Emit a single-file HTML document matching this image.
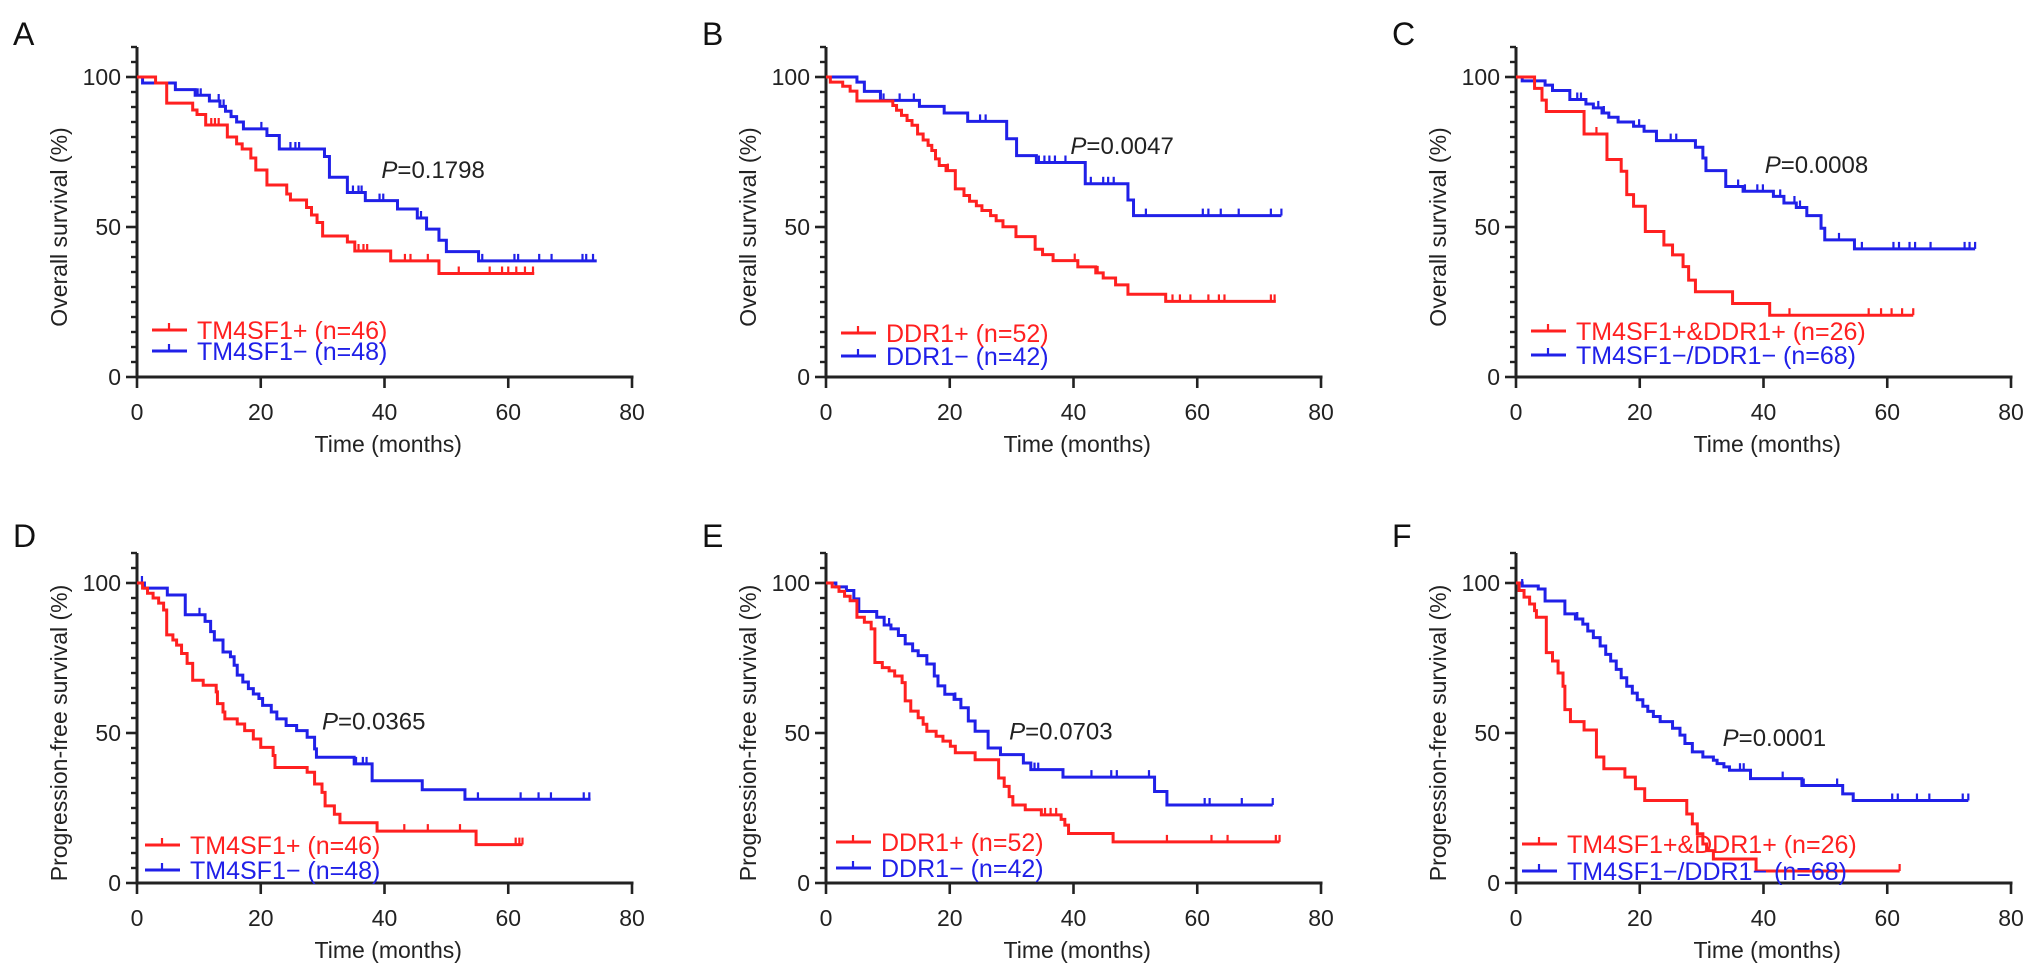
<!DOCTYPE html>
<html><head><meta charset="utf-8">
<style>
html,body{margin:0;padding:0;background:#fff;}
svg{display:block;font-family:"Liberation Sans",Arial,sans-serif;}
</style></head>
<body>
<svg id="fig" width="2032" height="977" viewBox="0 0 2032 977" xmlns="http://www.w3.org/2000/svg"></svg>
<script>
// ---------- data ----------
const panelLetters = ["A","B","C","D","E","F"];
const yTitles = ["Overall survival (%)","Overall survival (%)","Overall survival (%)","Progression-free survival (%)","Progression-free survival (%)","Progression-free survival (%)"];
const pLabels = ["=0.1798","=0.0047","=0.0008","=0.0365","=0.0703","=0.0001"];
const pPosT = [39.5,39.5,40.2,29.9,29.6,33.4];
const pPosV = [69,77,70.6,53.8,50.5,48.4];
const redNames = ["TM4SF1+ (n=46)","DDR1+ (n=52)","TM4SF1+&DDR1+ (n=26)","TM4SF1+ (n=46)","DDR1+ (n=52)","TM4SF1+&DDR1+ (n=26)"];
const blueNames = ["TM4SF1\u2212 (n=48)","DDR1\u2212 (n=42)","TM4SF1\u2212/DDR1\u2212 (n=68)","TM4SF1\u2212 (n=48)","DDR1\u2212 (n=42)","TM4SF1\u2212/DDR1\u2212 (n=68)"];
const xTicks = [0,20,40,60,80];
const yTicks = [0,50,100];
const endRed = [64.2,72.7,64.2,62.3,73.3,62];
const endBlue = [74.3,73.6,74.2,73.3,72.2,73.1];

const aRedT=[3,4.8,9,9.7,11.1,14.6,16.1,17,18.4,19.2,21,24.2,24.8,27.4,28.2,29.1,30,34,35.2,41,48.8];
const aRedS=[98,91.3,89,87.5,84,80,77.7,76,73,69,64,61,59,56.5,54,51.5,47,45,42,38.7,34.5];
const aRedC=[12,12.6,13.2,35.8,36.6,37.2,43.3,44.2,47,52,57,59,60,61.3,62.7,64];
const aBlueT=[0.9,6.2,9.4,11.7,13.4,14.3,15.2,16.1,17.2,21,23,30.3,31.1,34,36.9,42.1,45.3,46.8,48.8,50,55.2];
const aBlueS=[98,95.8,93.9,92,90.2,88.6,86.8,85,82.7,80.5,76,73.5,66.6,61.5,58.8,56,53,49.3,45.6,41.8,38.7];
const aBlueC=[9.8,10.3,13.2,14,20.1,24.8,25.6,26.2,34.9,35.8,36.3,39.2,39.8,45.9,55.8,61,61.6,65,67,72,72.6,73.7];

const bRedT=[0.7,2.7,3.9,5,10.8,11.4,12.2,13.1,13.9,14.8,15.7,16.5,17.1,17.7,18.3,19.4,20.9,22.3,23.2,24.3,25.2,26.6,27.5,28.6,30.7,33.8,35,36.7,40.7,43.6,44.8,46.8,48.8,54.9];
const bRedS=[98.3,96.9,95.3,92,90.5,88.9,87.2,85.5,83.9,81,79,77.2,75.5,72.7,70.5,68.8,62.7,60.5,58.6,57.1,55.5,53.8,52.1,50.1,46.8,42.6,40.8,38.8,36.7,34.7,33,30.7,27.6,25.2];
const bRedC=[19.7,40.2,43.9,56,57.2,58.9,61.8,63.5,64.4,71.9,72.5];
const bBlueT=[5,6.2,8.8,15.1,19.1,22.9,29.2,30.8,34,41.9,48.8,49.7];
const bBlueS=[98.3,95.2,92.2,90.2,88,85.2,79.4,73.8,71.5,64.4,59,53.8];
const bBlueC=[9.3,11.9,14.2,24.9,25.8,34.4,35.3,36.1,37,38.7,42.8,44.8,45.6,46.5,51.7,60.9,61.8,63.8,66.7,71.9,73.6];

const cRedT=[3,4.2,4.9,11,14.7,17,17.9,19,20.9,23.9,25.3,27,27.9,29,35,41];
const cRedS=[96.2,92.3,88.5,81,72.5,68.6,60.8,56.9,48.5,44,40.7,36.8,32.3,28.4,24.5,20.6];
const cRedC=[13,44.2,57,59,60.7,62.4,64.2];
const cBlueT=[1,4.7,5.9,8.7,11.3,12.5,13.9,15,16.5,19,20.7,22.7,29,30.2,30.7,33.9,36.7,41.6,43.3,45.3,47,49.3,49.9,54.7];
const cBlueS=[98.7,97.3,95.5,92.5,91,89.7,88,86.6,85,83.6,81.9,78.8,76.6,73,68.8,63.5,61.9,60.2,58,56.5,53.8,49.6,45.7,42.7];
const cBlueC=[9.9,10.5,13.3,14.2,19.9,25,25.9,35.9,37,39,39.9,42.7,45,45.9,52.2,55.9,61,61.9,63.6,64.5,67,72.5,73.3,74.2];

const dRedT=[0.9,1.7,2.6,3.5,4.3,4.8,5.8,6.4,7.2,8.1,9,10.7,12.8,13,13.9,14.2,16.2,17.4,18.8,20,22,22.3,27.5,28.7,29.9,30.4,31.9,32.8,38.8,54.8];
const dRedS=[98.3,96.6,95,93.3,91,82.7,81,79.3,76.5,73.2,67.6,65.9,63.7,59.8,57,54.7,53,50.8,48,45.2,42.5,38.5,36.9,33,30.2,25.7,22.9,20.1,17.3,12.8];
const dRedC=[43.2,47,52.2,61.2,61.8,62.3];
const dBlueT=[1.2,4.9,7.8,11,11.9,12.5,13.9,15.1,15.7,16.2,17.1,18,18.8,19.7,20.3,21.7,22.6,24.1,25.8,27.5,28.7,29,35.1,38,46.1,53];
const dBlueS=[98.3,96,89.4,87.2,83.8,81,77,75.4,72.6,69.3,67,64.8,63,61.5,59.2,57,54.7,52.5,50.8,48.6,44.7,41.9,39.7,34.1,31.1,27.9];
const dBlueC=[0.8,10.1,35.4,36.5,37.1,55.1,62,64.9,66.9,72.2,73.1];

const eRedT=[1,2.1,3,3.9,5,6.2,7.3,7.9,9.1,10.2,11.1,12.3,12.8,13.7,14.9,15.7,16.3,17.8,18.9,20.1,20.9,24.1,27.9,28.8,29.6,30.2,32.2,34.8,38,38.6,39.2,46.4];
const eRedS=[98.7,97.2,95.6,94.1,88.6,86.9,84.7,73.5,71.8,70.7,69,66.8,60.7,57.3,55.1,52.9,50.6,48.9,47.3,45.6,43.4,41.1,35,32.2,28.8,26,24.4,22.7,21.2,19.3,16.5,13.7];
const eRedC=[35.4,36.3,37.2,55.1,62.3,64.9,72.7,73.3];
const eBlueT=[1.6,3.3,4.5,5.3,8.2,9.4,10.5,11.7,12.8,14,14.9,16.3,17.5,18.1,19.2,20.7,21.8,23,24.1,26.2,28.2,31.9,33.1,38.3,53.1,55.1];
const eBlueS=[98.7,97.5,94.7,90.5,88.6,86,84.7,82.5,79.7,77.4,75.8,73,69,65.7,62.9,61.2,58.4,54,50.6,45,42.8,40,37.8,35.3,30.5,26];
const eBlueC=[10.2,20.9,33.7,34.3,42.9,46.1,47,52.2,61.2,62,67.2,72.2];

const fRedT=[0.5,1.3,2.2,3,3.3,4.9,5.9,6.8,7.6,7.9,8.8,11,13,14.2,17.6,19.3,20.8,27.6,28.5,29.3,30.2,30.8,31.9,38.8];
const fRedS=[97.5,95.3,93,90.8,88.6,76.8,74,70,65.6,57.8,53.8,51,42,38.1,35.3,31.4,27.5,23,19.7,16.4,13,10.8,8,4];
const fRedC=[62];
const fBlueT=[1,3.6,4.7,7.9,9.6,10.8,11.6,12.5,13.6,14.5,15.3,16.2,17,17.9,18.8,19.6,20.5,21.3,22.2,23.3,25.3,26.5,27.3,28.5,30.2,31.9,32.5,33.6,34.5,37.9,46.2,52.8,54.5];
const fBlueS=[99,98,94,89.7,88,86.3,84,81.8,79,76.2,74,71.2,68.4,65.6,63.3,61.1,58.9,57.2,55.5,53.8,51.6,49.3,46.5,43.7,42,40.9,39.8,38.7,37.6,34.8,32.5,29.7,27.5];
const fBlueC=[1,9.9,36.2,36.8,43.1,46.5,51.9,60.8,61.7,64.8,66.8,72.2,73.1];

const redT=[aRedT,bRedT,cRedT,dRedT,eRedT,fRedT];
const redS=[aRedS,bRedS,cRedS,dRedS,eRedS,fRedS];
const redC=[aRedC,bRedC,cRedC,dRedC,eRedC,fRedC];
const blueT=[aBlueT,bBlueT,cBlueT,dBlueT,eBlueT,fBlueT];
const blueS=[aBlueS,bBlueS,cBlueS,dBlueS,eBlueS,fBlueS];
const blueC=[aBlueC,bBlueC,cBlueC,dBlueC,eBlueC,fBlueC];

// ---------- layout ----------
const colX0=[137,826,1516];
const rowY0=[377,883];
const plotW=495, plotH=300;
const legRedOff=[47,44,46,38,41,39];
const legBlueOff=[26,21,22,13,15,12];
const legX=[15,15,15,8,10,6];
const RED="#ff2020", BLUE="#2020e8", INK="#222";
const NS="http://www.w3.org/2000/svg";
const svg=document.getElementById("fig");

function mk(tag,attrs,parent){const e=document.createElementNS(NS,tag);for(const k in attrs)e.setAttribute(k,attrs[k]);(parent||svg).appendChild(e);return e;}

for(let p=0;p<6;p++){
  const x0=colX0[p%3], y0=rowY0[Math.floor(p/3)];
  const xs=t=>x0+t/80*plotW;
  const ys=v=>y0-v/100*plotH;
  const g=mk("g",{});
  
  

  const L=mk("text",{x:x0-124,y:y0-(p<3?332:336),"font-size":32,fill:"#111"},g);
  L.textContent=panelLetters[p];
  
  

  const ya=mk("g",{},g);
  
  
  mk("line",{x1:x0,y1:ys(110),x2:x0,y2:y0+1.5,stroke:INK,"stroke-width":3},ya);
  for(let v=0;v<=110;v+=5){
    const major=yTicks.indexOf(v)>=0;
    mk("line",{x1:x0-(major?11:6),y1:ys(v),x2:x0,y2:ys(v),stroke:INK,"stroke-width":major?2.6:2.4},ya);
  }
  for(let i=0;i<yTicks.length;i++){
    const t=mk("text",{x:x0-16,y:ys(yTicks[i])+8,"font-size":23,"text-anchor":"end",fill:"#222"},ya);
    t.textContent=yTicks[i];
    
    
  }
  const yt=mk("text",{x:0,y:0,"font-size":23,"text-anchor":"middle",fill:"#222",transform:`translate(${x0-70},${ys(50)}) rotate(-90)`},g);
  yt.textContent=yTitles[p];
  
  

  const xa=mk("g",{},g);
  
  
  mk("line",{x1:x0-1.5,y1:y0,x2:xs(80)+1.5,y2:y0,stroke:INK,"stroke-width":3},xa);
  for(let i=0;i<xTicks.length;i++){
    mk("line",{x1:xs(xTicks[i]),y1:y0,x2:xs(xTicks[i]),y2:y0+11,stroke:INK,"stroke-width":2.6},xa);
    const t=mk("text",{x:xs(xTicks[i]),y:y0+43,"font-size":23,"text-anchor":"middle",fill:"#222"},xa);
    t.textContent=xTicks[i];
    
    
  }
  const xt=mk("text",{x:xs(40.6),y:y0+75,"font-size":23,"text-anchor":"middle",fill:"#222"},g);
  xt.textContent="Time (months)";
  
  

  function curve(T,S,C,end,color,name){
    let d=`M${xs(0)},${ys(100)}`;
    for(let i=0;i<T.length;i++){d+=` H${xs(T[i])} V${ys(S[i])}`;}
    d+=` H${xs(end)}`;
    const path=mk("path",{d:d,fill:"none",stroke:color,"stroke-width":3,"stroke-linejoin":"miter"},g);
    
    
    for(let j=0;j<C.length;j++){
      let lv=100;for(let i=0;i<T.length;i++){if(T[i]<=C[j])lv=S[i];}
      const tk=mk("line",{x1:xs(C[j]),y1:ys(lv),x2:xs(C[j]),y2:ys(lv)-7,stroke:color,"stroke-width":2.2},g);
      
      
    }
  }
  curve(blueT[p],blueS[p],blueC[p],endBlue[p],BLUE,'negative-group');
  curve(redT[p],redS[p],redC[p],endRed[p],RED,'positive-group');

  const pt=mk("text",{x:xs(pPosT[p]),y:ys(pPosV[p])+8,"font-size":24,fill:"#222"},g);
  
  
  const ip=mk("tspan",{"font-style":"italic"},pt);ip.textContent="P";
  const rp=mk("tspan",{},pt);rp.textContent=pLabels[p];

  const lg=mk("g",{},g);
  
  
  const rows=[[legRedOff[p],RED,redNames[p],'legend-entry-positive'],[legBlueOff[p],BLUE,blueNames[p],'legend-entry-negative']];
  for(const r of rows){
    const ly=y0-r[0], lx=x0+legX[p];
    const e=mk("g",{},lg);
    
    
    mk("line",{x1:lx,y1:ly,x2:lx+35,y2:ly,stroke:r[1],"stroke-width":3},e);
    mk("line",{x1:lx+17,y1:ly,x2:lx+17,y2:ly-7,stroke:r[1],"stroke-width":2.2},e);
    const t=mk("text",{x:lx+45,y:ly+9,"font-size":25,fill:r[1]},e);
    t.textContent=r[2];
  }
}
</script>
</body></html>
